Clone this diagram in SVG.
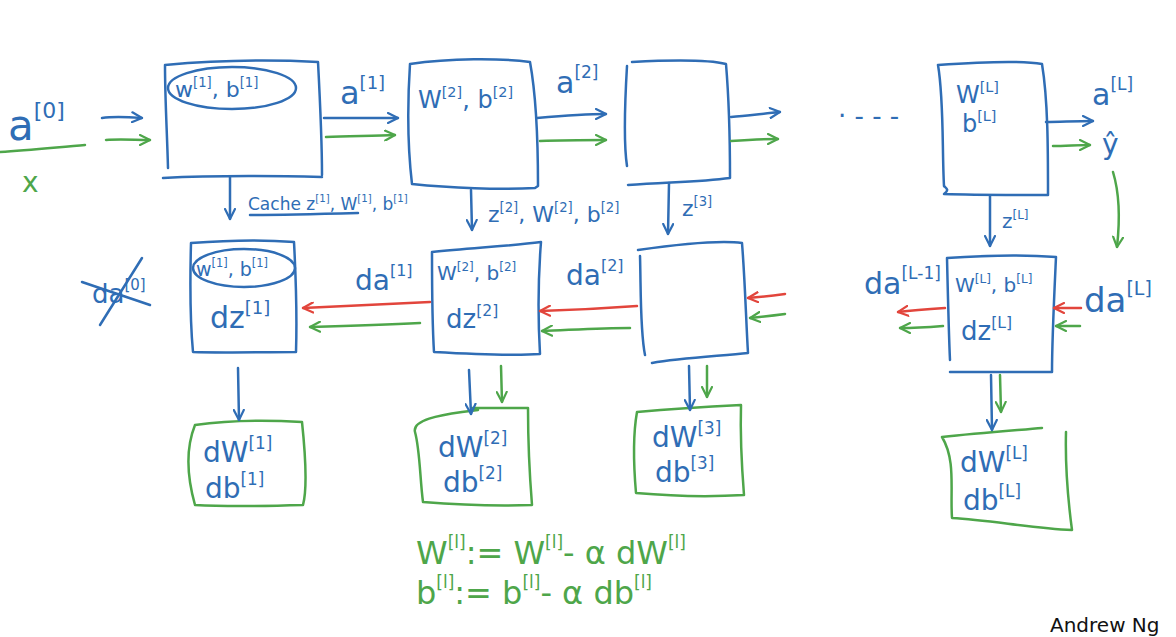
<svg xmlns="http://www.w3.org/2000/svg" width="1176" height="637" viewBox="0 0 1176 637">
<style>
.b{stroke:#2f6db5;fill:none;stroke-width:2.5;stroke-linecap:round;stroke-linejoin:round}
.g{stroke:#4ea64a;fill:none;stroke-width:2.5;stroke-linecap:round;stroke-linejoin:round}
.r{stroke:#e2453c;fill:none;stroke-width:2.5;stroke-linecap:round;stroke-linejoin:round}
text{font-family:"DejaVu Sans","Liberation Sans",sans-serif}
.tb{fill:#2f6db5}
.tg{fill:#4ea64a}
.s{font-size:60%}
</style>
<defs>
<marker id="mb" viewBox="0 0 12 12" refX="11" refY="6" markerWidth="12" markerHeight="12" markerUnits="userSpaceOnUse" orient="auto"><path d="M1,1 L11,6 L1,11" fill="none" stroke="#2f6db5" stroke-width="2.2" stroke-linecap="round"/></marker>
<marker id="mg" viewBox="0 0 12 12" refX="11" refY="6" markerWidth="12" markerHeight="12" markerUnits="userSpaceOnUse" orient="auto"><path d="M1,1 L11,6 L1,11" fill="none" stroke="#4ea64a" stroke-width="2.2" stroke-linecap="round"/></marker>
<marker id="mr" viewBox="0 0 12 12" refX="11" refY="6" markerWidth="12" markerHeight="12" markerUnits="userSpaceOnUse" orient="auto"><path d="M1,1 L11,6 L1,11" fill="none" stroke="#e2453c" stroke-width="2.2" stroke-linecap="round"/></marker>
</defs>
<rect width="1176" height="637" fill="#ffffff"/>

<!-- input -->
<g id="input">
<text x="8" y="140" font-size="42" class="tb">a<tspan font-size="22" dy="-22">[0]</tspan></text>
<path class="g" d="M0,152 C30,150 60,147 85,145"/>
<text x="22" y="192" font-size="28" class="tg">x</text>
</g>

<!-- forward boxes -->
<g id="f1">
<path class="b" d="M165,65 C220,60 280,60 318,62 C320,100 322,140 322,175 M165,65 C165,100 167,130 168,168 M163,178 C220,175 280,176 322,177"/>
<ellipse class="b" cx="232" cy="88" rx="64" ry="21"/>
<text x="175" y="97" font-size="22" class="tb">w<tspan class="s" dy="-10">[1]</tspan><tspan dy="10">, b</tspan><tspan class="s" dy="-10">[1]</tspan></text>
</g>
<g id="f2">
<path class="b" d="M410,64 C450,58 500,58 530,62 C537,100 538,150 538,186 L535,188 M410,64 C407,110 408,150 412,184 C450,188 500,190 535,188"/>
<text x="418" y="108" font-size="24" class="tb">W<tspan class="s" dy="-11">[2]</tspan><tspan dy="11">, b</tspan><tspan class="s" dy="-11">[2]</tspan></text>
</g>
<g id="f3">
<path class="b" d="M627,66 C625,100 623,140 627,166 M632,62 C670,60 710,60 726,64 C729,100 730,150 730,178 C700,182 670,182 628,185"/>
</g>
<g id="fL">
<path class="b" d="M938,65 C980,62 1020,60 1042,64 C1048,100 1048,150 1048,195 C1010,195 975,195 944,194 C950,190 946,188 944,186 C942,150 944,100 938,65"/>
<text x="956" y="103" font-size="24" class="tb">W<tspan class="s" dy="-11">[L]</tspan></text>
<text x="962" y="132" font-size="24" class="tb">b<tspan class="s" dy="-11">[L]</tspan></text>
</g>

<!-- backward boxes -->
<g id="b1">
<path class="b" d="M191,243 C230,240 270,240 294,242 C296,280 297,320 296,352 C260,352 220,353 193,352 C190,320 190,280 191,243"/>
<ellipse class="b" cx="244" cy="268" rx="51" ry="19"/>
<text x="196" y="276" font-size="19" class="tb">w<tspan class="s" dy="-9">[1]</tspan><tspan dy="9">, b</tspan><tspan class="s" dy="-9">[1]</tspan></text>
<text x="210" y="328" font-size="30" class="tb">dz<tspan class="s" dy="-14">[1]</tspan></text>
</g>
<g id="b2">
<path class="b" d="M432,252 C470,248 510,246 541,242 C538,280 538,320 540,354 C510,356 470,354 434,352 C432,320 432,280 432,252"/>
<text x="437" y="280" font-size="20" class="tb">W<tspan class="s" dy="-9">[2]</tspan><tspan dy="9">, b</tspan><tspan class="s" dy="-9">[2]</tspan></text>
<text x="446" y="328" font-size="26" class="tb">dz<tspan class="s" dy="-12">[2]</tspan></text>
</g>
<g id="b3">
<path class="b" d="M638,250 C680,244 720,240 742,243 C745,280 746,320 748,353 C720,356 680,358 652,363 M640,256 C641,290 640,330 645,355"/>
</g>
<g id="bL">
<path class="b" d="M947,258 C990,255 1030,255 1056,257 C1054,300 1052,340 1052,372 C1020,372 985,372 950,372 M947,258 C948,300 949,340 950,360"/>
<text x="955" y="292" font-size="20" class="tb">W<tspan class="s" dy="-9">[L]</tspan><tspan dy="9">, b</tspan><tspan class="s" dy="-9">[L]</tspan></text>
<text x="961" y="340" font-size="26" class="tb">dz<tspan class="s" dy="-12">[L]</tspan></text>
</g>

<!-- gradient boxes -->
<g id="d1">
<path class="g" d="M195,425 C230,420 270,420 302,422 C306,460 307,490 303,505 C270,506 230,507 195,505 C188,480 185,450 195,425"/>
<text x="203" y="462" font-size="28" class="tb">dW<tspan class="s" dy="-13">[1]</tspan></text>
<text x="205" y="498" font-size="28" class="tb">db<tspan class="s" dy="-13">[1]</tspan></text>
</g>
<g id="d2">
<path class="g" d="M415,432 C412,420 440,415 462,412 L478,410 M472,408 C490,408 510,408 528,408 C528,440 530,480 532,505 C500,506 460,505 423,502 C420,480 420,450 415,432"/>
<text x="438" y="457" font-size="28" class="tb">dW<tspan class="s" dy="-13">[2]</tspan></text>
<text x="443" y="492" font-size="28" class="tb">db<tspan class="s" dy="-13">[2]</tspan></text>
</g>
<g id="d3">
<path class="g" d="M637,412 C680,408 720,406 741,405 C740,440 742,470 744,495 C710,497 670,496 636,493 C634,470 632,440 637,412"/>
<text x="652" y="447" font-size="28" class="tb">dW<tspan class="s" dy="-13">[3]</tspan></text>
<text x="655" y="482" font-size="28" class="tb">db<tspan class="s" dy="-13">[3]</tspan></text>
</g>
<g id="dL">
<path class="g" d="M942,437 C980,433 1020,430 1042,428 M1066,432 C1065,470 1068,500 1072,530 C1030,528 990,520 952,518 C950,490 956,460 942,437"/>
<text x="960" y="472" font-size="28" class="tb">dW<tspan class="s" dy="-13">[L]</tspan></text>
<text x="963" y="510" font-size="28" class="tb">db<tspan class="s" dy="-13">[L]</tspan></text>
</g>

<!-- connectors -->
<g id="connectors">
<path class="b" d="M102,118 C115,116 128,117 142,118" marker-end="url(#mb)"/>
<path class="g" d="M106,140 C120,139 135,140 150,140" marker-end="url(#mg)"/>
<path class="b" d="M324,118 C350,118 375,118 398,118" marker-end="url(#mb)"/>
<path class="g" d="M326,137 C350,136 375,136 395,135" marker-end="url(#mg)"/>
<path class="b" d="M537,118 C560,116 585,114 606,114" marker-end="url(#mb)"/>
<path class="g" d="M540,141 C565,140 585,140 606,140" marker-end="url(#mg)"/>
<path class="b" d="M731,117 C745,116 760,114 780,112" marker-end="url(#mb)"/>
<path class="g" d="M731,141 C745,140 760,139 778,139" marker-end="url(#mg)"/>
<path class="b" d="M1046,122 C1060,122 1075,121 1093,121" marker-end="url(#mb)"/>
<path class="g" d="M1053,146 C1065,146 1078,145 1090,145" marker-end="url(#mg)"/>
<path class="g" d="M1113,172 C1120,195 1120,220 1117,247" marker-end="url(#mg)"/>

<path class="b" d="M230,177 L230,219" marker-end="url(#mb)"/>
<path class="b" d="M471,190 L472,230" marker-end="url(#mb)"/>
<path class="b" d="M669,183 L668,234" marker-end="url(#mb)"/>
<path class="b" d="M990,196 L990,246" marker-end="url(#mb)"/>

<path class="r" d="M430,302 C390,304 345,306 303,308" marker-end="url(#mr)"/>
<path class="g" d="M420,323 C380,325 345,326 310,327" marker-end="url(#mg)"/>
<path class="r" d="M637,306 C610,308 575,310 540,311" marker-end="url(#mr)"/>
<path class="g" d="M630,328 C600,328 570,330 542,331" marker-end="url(#mg)"/>
<path class="r" d="M785,294 C770,296 760,297 748,298" marker-end="url(#mr)"/>
<path class="g" d="M785,314 C770,316 760,317 750,318" marker-end="url(#mg)"/>
<path class="r" d="M1081,308 C1070,308 1062,308 1054,308" marker-end="url(#mr)"/>
<path class="g" d="M1080,326 C1072,326 1064,326 1056,326" marker-end="url(#mg)"/>
<path class="r" d="M945,308 C930,309 915,310 898,312" marker-end="url(#mr)"/>
<path class="g" d="M943,326 C930,327 915,328 900,328" marker-end="url(#mg)"/>

<path class="b" d="M238,368 L239,420" marker-end="url(#mb)"/>
<path class="b" d="M469,370 L471,414" marker-end="url(#mb)"/>
<path class="g" d="M501,366 L502,402" marker-end="url(#mg)"/>
<path class="b" d="M689,366 L690,410" marker-end="url(#mb)"/>
<path class="g" d="M707,366 L707,397" marker-end="url(#mg)"/>
<path class="b" d="M991,375 L992,430" marker-end="url(#mb)"/>
<path class="g" d="M1000,375 L1001,412" marker-end="url(#mg)"/>
</g>

<!-- labels -->
<g id="labels">
<text x="340" y="104" font-size="32" class="tb">a<tspan font-size="18" dy="-15">[1]</tspan></text>
<text x="556" y="93" font-size="30" class="tb">a<tspan font-size="17" dy="-15">[2]</tspan></text>
<text x="838" y="125" font-size="26" class="tb">· - - -</text>
<text x="1092" y="105" font-size="30" class="tb">a<tspan font-size="17" dy="-15">[L]</tspan></text>
<text x="1102" y="154" font-size="28" class="tb">ŷ</text>
<text x="248" y="210" font-size="17" class="tb">Cache z<tspan class="s" dy="-8">[1]</tspan><tspan dy="8">, W</tspan><tspan class="s" dy="-8">[1]</tspan><tspan dy="8">, b</tspan><tspan class="s" dy="-8">[1]</tspan></text>
<path class="b" d="M250,215 C280,215 320,214 358,213" stroke-width="2"/>
<text x="488" y="222" font-size="22" class="tb">z<tspan class="s" dy="-10">[2]</tspan><tspan dy="10">, W</tspan><tspan class="s" dy="-10">[2]</tspan><tspan dy="10">, b</tspan><tspan class="s" dy="-10">[2]</tspan></text>
<text x="682" y="216" font-size="22" class="tb">z<tspan class="s" dy="-10">[3]</tspan></text>
<text x="1002" y="228" font-size="20" class="tb">z<tspan class="s" dy="-9">[L]</tspan></text>
<text x="355" y="290" font-size="28" class="tb">da<tspan font-size="16" dy="-14">[1]</tspan></text>
<text x="566" y="285" font-size="28" class="tb">da<tspan font-size="16" dy="-14">[2]</tspan></text>
<text x="864" y="294" font-size="30" class="tb">da<tspan font-size="17" dy="-15">[L-1]</tspan></text>
<text x="1084" y="312" font-size="34" class="tb">da<tspan font-size="19" dy="-17">[L]</tspan></text>
<text x="92" y="303" font-size="26" class="tb">da<tspan font-size="15" dy="-13">[0]</tspan></text>
<path class="b" d="M82,282 L150,305 M100,325 L142,258"/>
<text x="416" y="564" font-size="32" class="tg">W<tspan font-size="17" dy="-16">[l]</tspan><tspan dy="16">:= W</tspan><tspan font-size="17" dy="-16">[l]</tspan><tspan dy="16">- α dW</tspan><tspan font-size="17" dy="-16">[l]</tspan></text>
<text x="416" y="604" font-size="32" class="tg">b<tspan font-size="17" dy="-16">[l]</tspan><tspan dy="16">:= b</tspan><tspan font-size="17" dy="-16">[l]</tspan><tspan dy="16">- α db</tspan><tspan font-size="17" dy="-16">[l]</tspan></text>
<text x="1050" y="632" font-size="20" fill="#111111" font-family="Open Sans, Liberation Sans, sans-serif">Andrew Ng</text>
</g>
</svg>
